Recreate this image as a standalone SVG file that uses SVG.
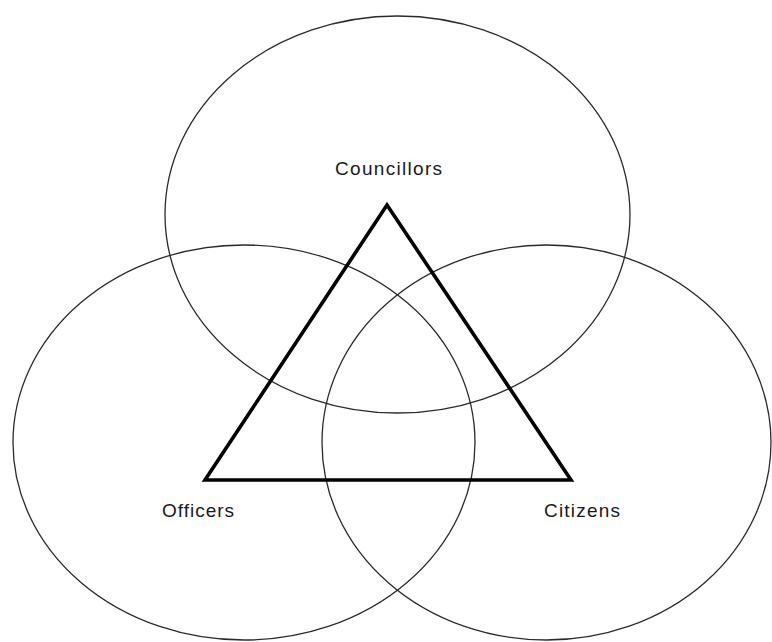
<svg xmlns="http://www.w3.org/2000/svg" width="772" height="642" viewBox="0 0 772 642">
<style>
.ring{fill:none;stroke:#2a2a2a;stroke-width:1.3}
.tri{fill:none;stroke:#000;stroke-width:3.6;stroke-linejoin:miter}
.lbl{font-family:"Liberation Sans",Arial,sans-serif;font-size:19px;fill:#1a1a1a}
</style>
<rect width="772" height="642" fill="#fff"/>
<g id="councillors">
<ellipse class="ring" cx="397.5" cy="214.5" rx="232.5" ry="198.5"/>
<text class="lbl" x="335" y="175" textLength="107" lengthAdjust="spacing">Councillors</text>
</g>
<g id="officers">
<ellipse class="ring" cx="244" cy="442.5" rx="231" ry="197.5"/>
<text class="lbl" x="162" y="517" textLength="72" lengthAdjust="spacing">Officers</text>
</g>
<g id="citizens">
<ellipse class="ring" cx="546.5" cy="442.5" rx="224.5" ry="197.5"/>
<text class="lbl" x="544" y="517" textLength="76" lengthAdjust="spacing">Citizens</text>
</g>
<g id="connectors">
<polygon class="tri" points="387,205 205,480 571,480"/>
</g>
</svg>
